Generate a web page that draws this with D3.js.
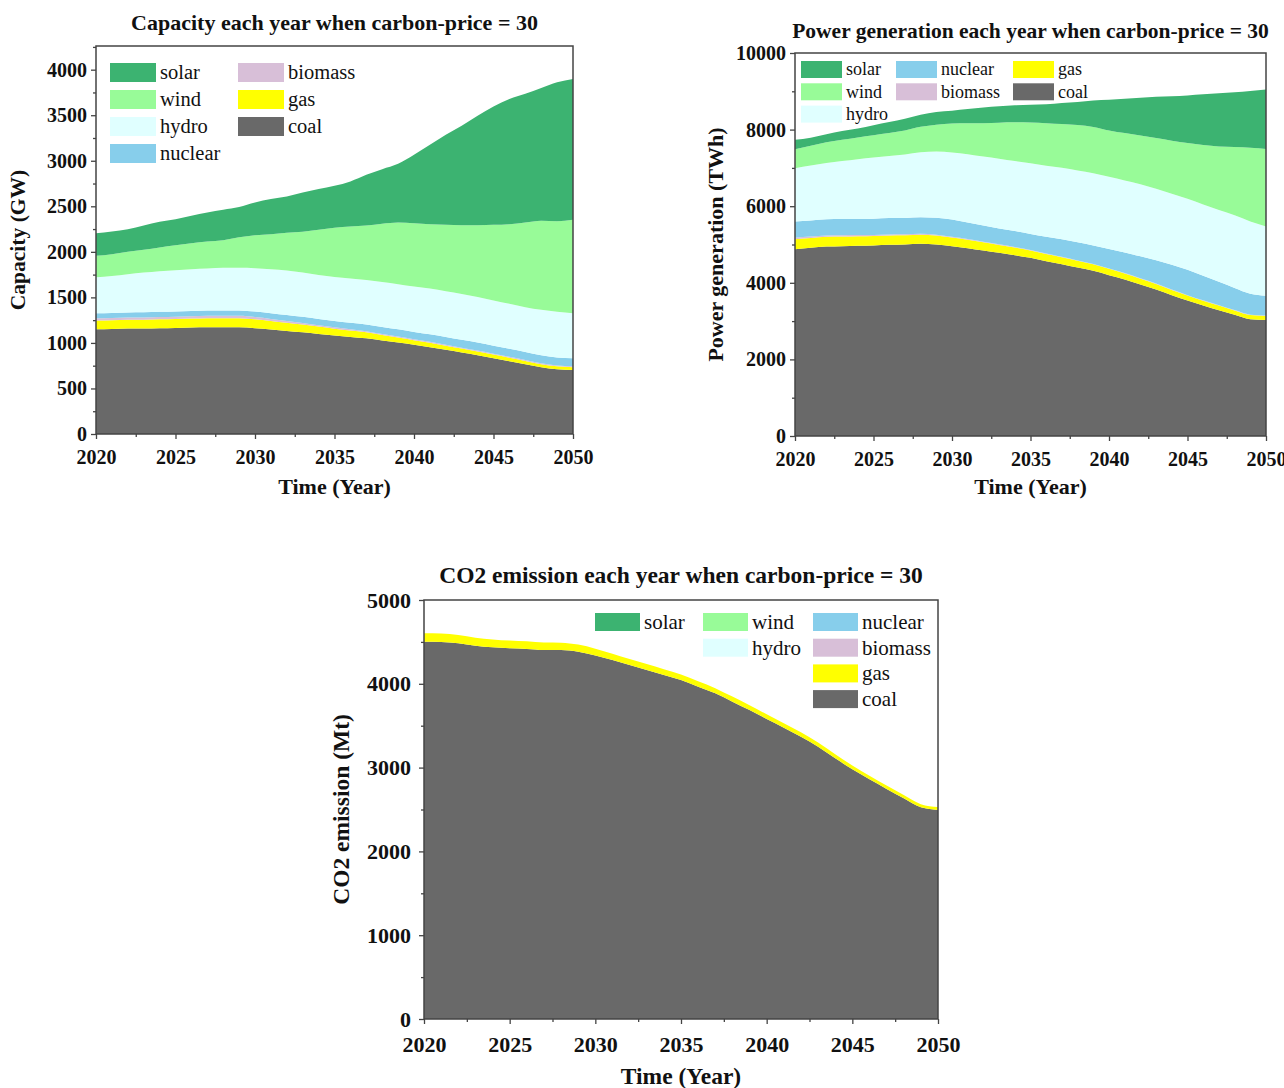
<!DOCTYPE html>
<html>
<head>
<meta charset="utf-8">
<script src="https://cdn.jsdelivr.net/npm/d3@7"></script>
<style>
  body { margin: 0; background: #fff; }
  svg text { font-family: "Liberation Serif", "Times New Roman", serif; fill: #111; }
</style>
</head>
<body>
<svg id="fig" width="1284" height="1088"></svg>
<script>
// Step 1: data
//================================
var years = [2020, 2021, 2022, 2023, 2024, 2025, 2026, 2027, 2028, 2029, 2030,
  2031, 2032, 2033, 2034, 2035, 2036, 2037, 2038, 2039, 2040,
  2041, 2042, 2043, 2044, 2045, 2046, 2047, 2048, 2049, 2050];

var keys = ["coal", "gas", "biomass", "nuclear", "hydro", "wind", "solar"];

var colors = {
  solar: "#3cb371",
  wind: "#98fb98",
  hydro: "#e0ffff",
  nuclear: "#87ceeb",
  biomass: "#d8bfd8",
  gas: "#ffff00",
  coal: "#696969"
};

// capacity (GW)
var capCoal = [1150, 1154, 1158, 1158, 1161, 1165, 1169, 1172, 1172, 1172, 1161, 1147, 1132, 1117, 1099, 1081, 1066, 1051, 1026, 1004, 979, 953, 924, 894, 865, 832, 799, 766, 733, 711, 703];
var capGas = [95, 95, 96, 97, 98, 98, 99, 100, 100, 100, 99, 95, 90, 85, 80, 75, 70, 65, 60, 55, 50, 48, 46, 44, 42, 40, 38, 36, 34, 32, 30];
var capBiomass = [25, 25, 25, 25, 25, 25, 25, 25, 25, 25, 24, 22, 20, 18, 16, 15, 14, 13, 12, 12, 12, 11, 11, 10, 10, 10, 10, 10, 10, 10, 10];
var capNuclear = [55, 55, 56, 56, 57, 57, 58, 58, 59, 59, 60, 62, 64, 66, 68, 70, 72, 74, 76, 78, 80, 82, 84, 86, 87, 88, 88, 88, 88, 88, 88];
var capHydro = [397, 407, 420, 437, 447, 454, 459, 462, 468, 468, 477, 484, 489, 487, 484, 484, 485, 489, 496, 496, 498, 503, 503, 504, 501, 495, 494, 492, 498, 500, 495];
var capWind = [234, 238, 245, 249, 260, 274, 285, 297, 304, 337, 362, 384, 414, 447, 495, 539, 571, 597, 638, 677, 696, 707, 729, 755, 788, 832, 875, 930, 978, 996, 1026];
var capSolar = [249, 249, 249, 267, 282, 286, 301, 318, 334, 330, 359, 385, 399, 432, 447, 461, 495, 557, 600, 645, 751, 872, 989, 1092, 1202, 1300, 1374, 1414, 1458, 1524, 1546];

// power generation (TWh)
var genCoal = [4878, 4912, 4947, 4956, 4965, 4973, 4991, 4999, 5017, 4999, 4956, 4904, 4843, 4782, 4721, 4651, 4564, 4486, 4399, 4312, 4199, 4086, 3955, 3825, 3677, 3537, 3407, 3284, 3163, 3049, 3031];
var genGas = [261, 258, 256, 254, 252, 250, 247, 244, 240, 235, 226, 220, 213, 206, 199, 192, 186, 181, 175, 170, 165, 158, 152, 145, 138, 131, 126, 121, 116, 110, 105];
var genBiomass = [40, 38, 35, 32, 30, 28, 26, 25, 24, 23, 22, 20, 18, 16, 15, 14, 13, 12, 11, 10, 10, 10, 10, 10, 10, 10, 10, 10, 10, 10, 10];
var genNuclear = [420, 420, 420, 421, 422, 424, 425, 427, 430, 440, 450, 430, 420, 415, 415, 420, 440, 460, 475, 485, 510, 535, 575, 610, 645, 660, 640, 610, 575, 545, 515];
var genHydro = [1394, 1437, 1472, 1515, 1559, 1594, 1620, 1654, 1698, 1733, 1750, 1785, 1803, 1821, 1829, 1847, 1855, 1864, 1873, 1882, 1882, 1882, 1881, 1864, 1855, 1855, 1863, 1873, 1898, 1889, 1812];
var genWind = [497, 514, 540, 557, 567, 584, 601, 627, 663, 697, 758, 810, 871, 941, 1011, 1063, 1106, 1141, 1185, 1211, 1210, 1237, 1272, 1324, 1385, 1455, 1551, 1663, 1786, 1926, 2021];
var genSolar = [243, 209, 209, 227, 235, 261, 287, 305, 313, 331, 332, 366, 410, 427, 444, 462, 497, 549, 601, 688, 802, 897, 984, 1080, 1159, 1245, 1324, 1385, 1428, 1480, 1550];

// CO2 emission (Mt)
var co2Coal = [4503, 4499, 4483, 4455, 4435, 4423, 4415, 4403, 4403, 4383, 4339, 4284, 4224, 4165, 4105, 4045, 3966, 3886, 3787, 3687, 3580, 3476, 3369, 3250, 3111, 2980, 2860, 2745, 2633, 2526, 2494];
var co2Gas = [100, 100, 98, 96, 95, 93, 92, 90, 88, 85, 80, 75, 72, 70, 68, 66, 64, 62, 60, 58, 56, 54, 52, 50, 48, 46, 44, 42, 40, 38, 36];
var co2None = [0, 0, 0, 0, 0, 0, 0, 0, 0, 0, 0, 0, 0, 0, 0, 0, 0, 0, 0, 0, 0, 0, 0, 0, 0, 0, 0, 0, 0, 0, 0];

var xMajor = [2020, 2025, 2030, 2035, 2040, 2045, 2050];
var xMinor = [2022.5, 2027.5, 2032.5, 2037.5, 2042.5, 2047.5];

var svg = d3.select("#fig");

// Step 2: one function draws a stacked-area panel
//================================
function drawChart(cfg) {
  var x = d3.scaleLinear().domain([2020, 2050]).range([cfg.left, cfg.right]);
  var y = d3.scaleLinear().domain([0, cfg.yMax]).range([cfg.bottom, cfg.top]);

  var rows = years.map(function(yr, i) {
    var r = { year: yr };
    keys.forEach(function(k) { r[k] = cfg.series[k][i]; });
    return r;
  });

  var stacked = d3.stack().keys(keys)(rows);

  var area = d3.area()
    .x(function(d) { return x(d.data.year); })
    .y0(function(d) { return y(d[0]); })
    .y1(function(d) { return y(d[1]); })
    .curve(d3.curveMonotoneX);

  var g = svg.append("g");

  g.selectAll("path.layer")
    .data(stacked)
    .enter()
    .append("path")
    .attr("class", "layer")
    .attr("fill", function(d) { return colors[d.key]; })
    .attr("d", area);

  // axes
  var yTicksMajor = d3.range(0, cfg.yMax + 1, cfg.yStep);
  var yTicksMinor = d3.range(cfg.yStep / 2, cfg.yMax, cfg.yStep);

  var xAxisG = g.append("g").attr("transform", "translate(0," + cfg.bottom + ")");
  xAxisG.call(d3.axisBottom(x).tickValues(xMajor).tickSize(5).tickPadding(cfg.xPad).tickFormat(d3.format("d")));
  xAxisG.append("g").call(d3.axisBottom(x).tickValues(xMinor).tickSize(3).tickFormat(""));

  var yAxisG = g.append("g").attr("transform", "translate(" + cfg.left + ",0)");
  yAxisG.call(d3.axisLeft(y).tickValues(yTicksMajor).tickSize(5).tickPadding(cfg.yPad).tickFormat(d3.format("d")));
  yAxisG.append("g").call(d3.axisLeft(y).tickValues(yTicksMinor).tickSize(3).tickFormat(""));

  g.selectAll(".domain").remove();
  g.selectAll(".tick line").attr("stroke", "#444").attr("stroke-width", 1.3);
  g.selectAll(".tick text")
    .attr("font-size", cfg.tickSize)
    .attr("font-weight", "bold")
    .attr("font-family", "Liberation Serif")
    .attr("fill", "#111");

  // frame
  g.append("rect")
    .attr("x", cfg.left)
    .attr("y", cfg.top)
    .attr("width", cfg.right - cfg.left)
    .attr("height", cfg.bottom - cfg.top)
    .attr("fill", "none")
    .attr("stroke", "#444")
    .attr("stroke-width", 1.5);

  // titles
  var cx = (cfg.left + cfg.right) / 2;
  g.append("text")
    .attr("x", cx)
    .attr("y", cfg.titleY)
    .attr("text-anchor", "middle")
    .attr("font-size", cfg.titleSize)
    .attr("font-weight", "bold")
    .text(cfg.title);

  g.append("text")
    .attr("x", cx)
    .attr("y", cfg.xLabelY)
    .attr("text-anchor", "middle")
    .attr("font-size", cfg.labelSize)
    .attr("font-weight", "bold")
    .text("Time (Year)");

  g.append("text")
    .attr("transform", "translate(" + cfg.yLabelX + "," + ((cfg.top + cfg.bottom) / 2) + ") rotate(-90)")
    .attr("text-anchor", "middle")
    .attr("font-size", cfg.yLabelSize)
    .attr("font-weight", "bold")
    .text(cfg.yLabel);

  // legend
  var lg = cfg.legend;
  var items = g.selectAll("g.legend-item")
    .data(lg.items)
    .enter()
    .append("g")
    .attr("class", "legend-item")
    .attr("transform", function(d) {
      return "translate(" + lg.colX[d.col] + "," + (lg.top + d.row * lg.step) + ")";
    });

  items.append("rect")
    .attr("width", lg.swW)
    .attr("height", lg.swH)
    .attr("fill", function(d) { return colors[d.key]; });

  items.append("text")
    .attr("x", lg.swW + 4)
    .attr("y", lg.swH / 2 + lg.fontSize * 0.33)
    .attr("font-size", lg.fontSize)
    .text(function(d) { return d.key; });
}

// Step 3: the three panels
//================================
drawChart({
  left: 96, right: 573, top: 46, bottom: 434,
  yMax: 4260, yStep: 500,
  tickSize: 20, xPad: 11, yPad: 4,
  title: "Capacity each year when carbon-price = 30",
  titleY: 30, titleSize: 22,
  xLabelY: 494, labelSize: 22,
  yLabel: "Capacity (GW)", yLabelX: 25, yLabelSize: 21.5,
  series: { coal: capCoal, gas: capGas, biomass: capBiomass, nuclear: capNuclear,
            hydro: capHydro, wind: capWind, solar: capSolar },
  legend: {
    colX: [110, 238], top: 63, step: 27, swW: 46, swH: 19, fontSize: 20.5,
    items: [
      { key: "solar", col: 0, row: 0 }, { key: "wind", col: 0, row: 1 },
      { key: "hydro", col: 0, row: 2 }, { key: "nuclear", col: 0, row: 3 },
      { key: "biomass", col: 1, row: 0 }, { key: "gas", col: 1, row: 1 },
      { key: "coal", col: 1, row: 2 }
    ]
  }
});

drawChart({
  left: 795, right: 1266, top: 53, bottom: 436,
  yMax: 10000, yStep: 2000,
  tickSize: 20, xPad: 11, yPad: 4,
  title: "Power generation each year when carbon-price = 30",
  titleY: 38, titleSize: 21.5,
  xLabelY: 494, labelSize: 22,
  yLabel: "Power generation (TWh)", yLabelX: 723, yLabelSize: 22,
  series: { coal: genCoal, gas: genGas, biomass: genBiomass, nuclear: genNuclear,
            hydro: genHydro, wind: genWind, solar: genSolar },
  legend: {
    colX: [801, 896, 1013], top: 61, step: 22.3, swW: 41, swH: 17, fontSize: 18,
    items: [
      { key: "solar", col: 0, row: 0 }, { key: "wind", col: 0, row: 1 },
      { key: "hydro", col: 0, row: 2 }, { key: "nuclear", col: 1, row: 0 },
      { key: "biomass", col: 1, row: 1 }, { key: "gas", col: 2, row: 0 },
      { key: "coal", col: 2, row: 1 }
    ]
  }
});

drawChart({
  left: 424, right: 938, top: 600, bottom: 1019,
  yMax: 5000, yStep: 1000,
  tickSize: 22, xPad: 12, yPad: 8,
  title: "CO2 emission each year when carbon-price = 30",
  titleY: 583, titleSize: 23.5,
  xLabelY: 1084, labelSize: 23.5,
  yLabel: "CO2 emission (Mt)", yLabelX: 349, yLabelSize: 23.5,
  series: { coal: co2Coal, gas: co2Gas, biomass: co2None, nuclear: co2None,
            hydro: co2None, wind: co2None, solar: co2None },
  legend: {
    colX: [595, 703, 813], top: 613, step: 25.7, swW: 45, swH: 18, fontSize: 21,
    items: [
      { key: "solar", col: 0, row: 0 }, { key: "wind", col: 1, row: 0 },
      { key: "nuclear", col: 2, row: 0 }, { key: "hydro", col: 1, row: 1 },
      { key: "biomass", col: 2, row: 1 }, { key: "gas", col: 2, row: 2 },
      { key: "coal", col: 2, row: 3 }
    ]
  }
});
</script>
</body>
</html>
